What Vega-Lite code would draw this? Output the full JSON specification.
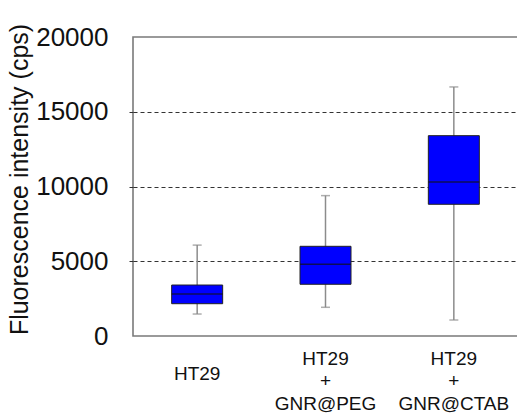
{
  "$schema": "https://vega.github.io/schema/vega-lite/v6.json",
  "width": 385,
  "height": 299,
  "autosize": "none",
  "padding": {"left": 133, "top": 37, "right": 0, "bottom": 79},
  "background": "white",
  "config": {
    "view": {"stroke": "#7a7a7a", "strokeWidth": 1.6},
    "font": "Liberation Sans",
    "axisY": {
      "titleFontSize": 25,
      "titleFontWeight": "normal",
      "titleColor": "#111",
      "titlePadding": 3,
      "titleY": 142,
      "labelFontSize": 26,
      "labelColor": "#111",
      "labelPadding": 20,
      "tickSize": 5,
      "tickColor": "#333",
      "tickDash": [4, 3],
      "domain": false,
      "grid": true,
      "gridColor": "#333",
      "gridDash": [4, 3],
      "gridWidth": 1.2
    },
    "axisX": {
      "labelFontSize": 19,
      "labelColor": "#111",
      "labelLineHeight": 22.5,
      "labelAngle": 0,
      "ticks": false,
      "domain": false
    }
  },
  "data": {
    "values": [
      {"group": "HT29", "low": 1470, "q1": 2160, "median": 2810, "q3": 3410, "high": 6080},
      {"group": "HT29 + GNR@PEG", "low": 1920, "q1": 3460, "median": 4800, "q3": 6000, "high": 9390},
      {"group": "HT29 + GNR@CTAB", "low": 1070, "q1": 8810, "median": 10300, "q3": 13400, "high": 16660}
    ]
  },
  "encoding": {
    "x": {
      "field": "group",
      "type": "nominal",
      "sort": null,
      "scale": {"paddingInner": 0, "paddingOuter": 0},
      "axis": {
        "title": null,
        "labelBaseline": "middle",
        "labelPadding": {"condition": {"test": "datum.value == 'HT29'", "value": 37}, "value": 22},
        "labelExpr": "split(datum.value, ' ')"
      }
    }
  },
  "layer": [
    {
      "mark": {"type": "rule", "color": "#8c8c8c", "strokeWidth": 1.5},
      "encoding": {
        "y": {
          "field": "low",
          "type": "quantitative",
          "scale": {"domain": [0, 20000], "nice": false},
          "axis": {
            "title": "Fluorescence intensity (cps)",
            "values": [0, 5000, 10000, 15000, 20000],
            "format": "d",
            "tickOpacity": {"condition": {"test": "datum.value == 0 || datum.value == 20000", "value": 0}, "value": 1},
            "gridOpacity": {"condition": {"test": "datum.value == 0 || datum.value == 20000", "value": 0}, "value": 1}
          }
        },
        "y2": {"field": "high"}
      }
    },
    {
      "mark": {"type": "tick", "color": "#8c8c8c", "thickness": 1.5, "size": 9},
      "encoding": {"y": {"field": "low", "type": "quantitative"}}
    },
    {
      "mark": {"type": "tick", "color": "#8c8c8c", "thickness": 1.5, "size": 9},
      "encoding": {"y": {"field": "high", "type": "quantitative"}}
    },
    {
      "mark": {"type": "bar", "color": "#0000ff", "stroke": "#222", "strokeWidth": 1, "size": 51},
      "encoding": {
        "y": {"field": "q1", "type": "quantitative"},
        "y2": {"field": "q3"}
      }
    },
    {
      "mark": {"type": "tick", "color": "#111", "thickness": 1.5, "size": 51},
      "encoding": {"y": {"field": "median", "type": "quantitative"}}
    }
  ]
}
